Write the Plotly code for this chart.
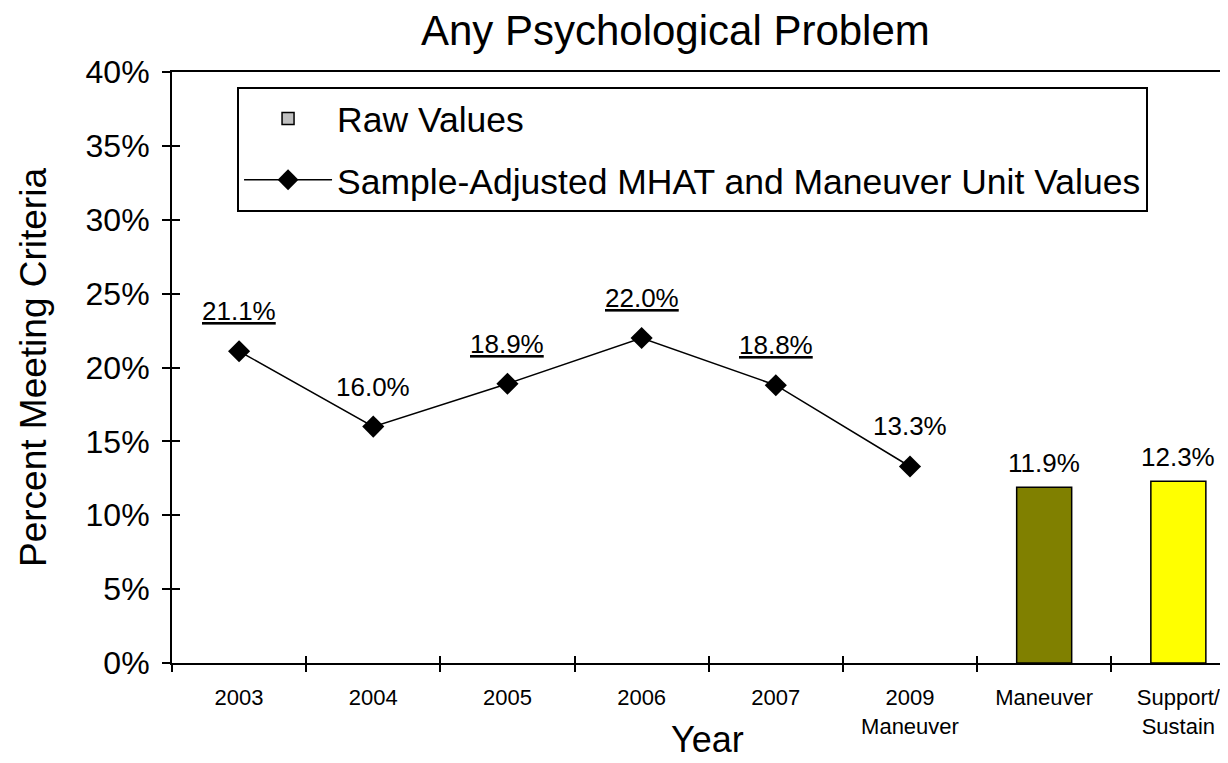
import plotly.graph_objects as go

# categories on the x axis
categories = ['2003', '2004', '2005', '2006', '2007', '2009 Maneuver', 'Maneuver', 'Support/Sustain']
tick_text = ['2003', '2004', '2005', '2006', '2007', '2009<br>Maneuver', 'Maneuver', 'Support/<br>Sustain']

# sample-adjusted MHAT values (line)
line_cats = ['2003', '2004', '2005', '2006', '2007', '2009 Maneuver']
line_vals = [21.1, 16.0, 18.9, 22.0, 18.8, 13.3]
line_underlined = [True, False, True, True, True, False]

# raw values (bars)
bar_cats = ['Maneuver', 'Support/Sustain']
bar_vals = [11.9, 12.3]
bar_colors = ['#808000', '#FFFF00']

FONT = 'Liberation Sans, Arial, sans-serif'
X_RANGE = [-0.5, 7.37]

fig = go.Figure()

# legend-only entry for the raw values (grey swatch like the original)
fig.add_trace(go.Bar(
    x=[None], y=[None],
    name='Raw Values',
    marker=dict(color='#C0C0C0', line=dict(color='black', width=1.5)),
    legendgroup='raw',
))

fig.add_trace(go.Bar(
    x=bar_cats, y=bar_vals,
    width=0.41,
    marker=dict(color=bar_colors, line=dict(color='black', width=1.5)),
    showlegend=False,
    hoverinfo='skip',
))

fig.add_trace(go.Scatter(
    x=line_cats, y=line_vals,
    mode='lines+markers',
    name='Sample-Adjusted MHAT and Maneuver Unit Values',
    line=dict(color='black', width=1.5),
    marker=dict(symbol='diamond', size=17, color='black'),
    legendgroup='adj',
))

# invisible helper trace so the overlay axes (inner half of the crossing ticks) get drawn
fig.add_trace(go.Scatter(
    x=categories, y=[None] * len(categories),
    xaxis='x2', yaxis='y2', mode='markers',
    showlegend=False, hoverinfo='skip',
))

# value labels (category index so numeric-looking names are not taken as positions)
for c, v, u in zip(line_cats, line_vals, line_underlined):
    txt = f'{v:.1f}%'
    if u:
        txt = f'<u>{txt}</u>'
    fig.add_annotation(x=categories.index(c), y=v, text=txt, showarrow=False, yshift=40,
                       font=dict(family=FONT, size=26, color='black'))

for c, v in zip(bar_cats, bar_vals):
    fig.add_annotation(x=categories.index(c), y=v, text=f'{v:.1f}%', showarrow=False, yshift=24,
                       font=dict(family=FONT, size=26, color='black'))

# x axis title sits level with the second line of the tick labels
fig.add_annotation(text='Year', xref='paper', yref='paper', x=0.507, y=-0.13,
                   xanchor='center', yanchor='middle', showarrow=False,
                   font=dict(family=FONT, size=36, color='black'))

fig.update_layout(
    width=1220, height=755,
    margin=dict(l=164, r=0, t=64, b=100),
    paper_bgcolor='white', plot_bgcolor='white',
    barmode='overlay',
    font=dict(family=FONT, color='black'),
    title=dict(text='Any Psychological Problem', x=0.547, xref='container', xanchor='center',
               y=0.971, yref='container', yanchor='middle',
               font=dict(family=FONT, size=42, color='black')),
    xaxis=dict(
        type='category', categoryorder='array', categoryarray=categories,
        tickvals=categories, ticktext=tick_text,
        range=X_RANGE,
        tickson='boundaries', ticks='outside', ticklen=7, tickcolor='black', tickwidth=1.5,
        ticklabelstandoff=14,
        showline=True, linecolor='black', linewidth=2, mirror=True,
        showgrid=False, zeroline=False,
        tickfont=dict(family=FONT, size=22, color='black'),
    ),
    xaxis2=dict(
        type='category', categoryorder='array', categoryarray=categories,
        tickvals=categories, range=X_RANGE, overlaying='x', anchor='y2',
        tickson='boundaries', ticks='inside', ticklen=7, tickcolor='black', tickwidth=1.5,
        showticklabels=False, showline=False, showgrid=False, zeroline=False,
    ),
    yaxis=dict(
        range=[0, 40], dtick=5, ticksuffix='%',
        ticks='outside', ticklen=8, tickcolor='black', tickwidth=1.5,
        ticklabelstandoff=6,
        showline=True, linecolor='black', linewidth=2,
        showgrid=False, zeroline=False,
        tickfont=dict(family=FONT, size=32, color='black'),
        title=dict(text='Percent Meeting Criteria', font=dict(family=FONT, size=37, color='black'), standoff=28),
    ),
    yaxis2=dict(
        range=[0, 40], dtick=5, overlaying='y', anchor='x2',
        ticks='inside', ticklen=8, tickcolor='black', tickwidth=1.5,
        showticklabels=False, showline=False, showgrid=False, zeroline=False,
    ),
    legend=dict(
        x=0.0616, y=0.9746, xanchor='left', yanchor='top',
        bgcolor='white', bordercolor='black', borderwidth=2,
        font=dict(family=FONT, size=35.5, color='black'),
        itemwidth=88, tracegroupgap=12,
    ),
    showlegend=True,
)

fig.write_html('out.html')
